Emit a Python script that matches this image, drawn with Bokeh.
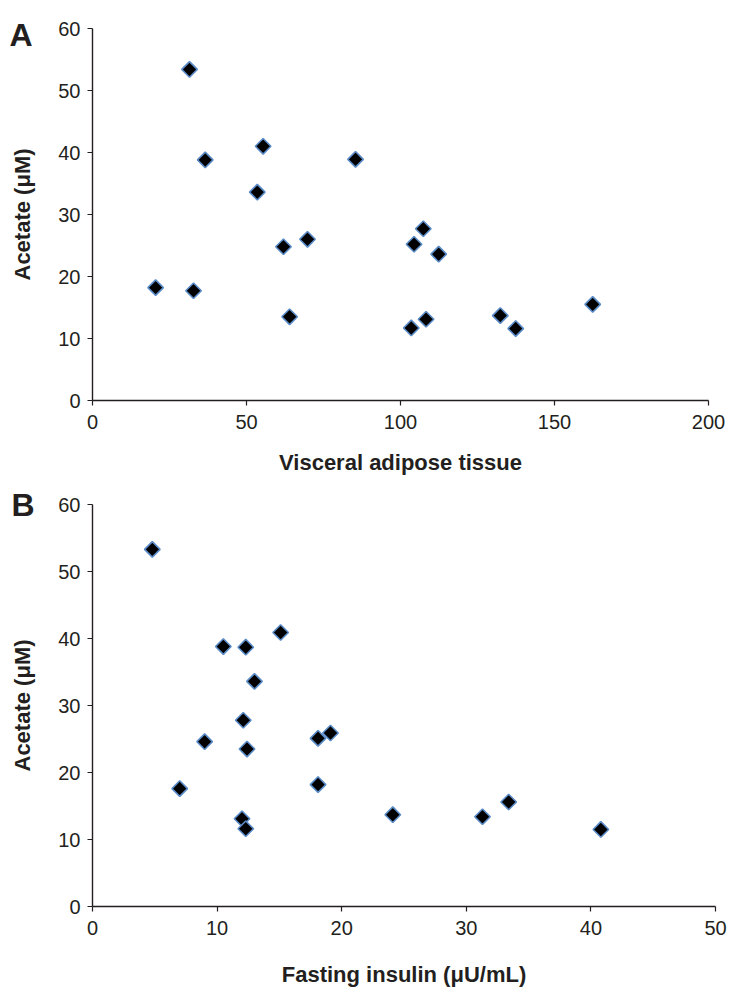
import math
from bokeh.plotting import figure
from bokeh.layouts import column
from bokeh.models import Range1d, FixedTicker, Label, ColumnDataSource
from bokeh.embed import file_html
from bokeh.resources import INLINE

# Panel A: visceral adipose tissue vs acetate
vat = [31.5, 36.6, 55.4, 53.5, 85.4, 62.0, 69.8, 20.5, 32.8, 64.0,
       104.4, 107.4, 112.4, 103.5, 108.3, 132.4, 137.4, 162.4]
acetate_a = [53.4, 38.8, 41.0, 33.6, 38.9, 24.8, 26.0, 18.2, 17.7, 13.5,
             25.2, 27.7, 23.6, 11.7, 13.1, 13.7, 11.6, 15.5]

# Panel B: fasting insulin vs acetate
insulin = [4.8, 10.5, 12.3, 15.1, 13.0, 12.1, 9.0, 12.4, 18.1, 19.1,
           7.0, 18.1, 12.0, 12.3, 24.1, 31.3, 33.4, 40.8]
acetate_b = [53.3, 38.8, 38.7, 40.9, 33.6, 27.8, 24.6, 23.5, 25.1, 25.9,
             17.6, 18.2, 13.1, 11.6, 13.7, 13.4, 15.6, 11.5]

x_ticks_a = [0, 50, 100, 150, 200]
x_ticks_b = [0, 10, 20, 30, 40, 50]
y_ticks = [0, 10, 20, 30, 40, 50, 60]
Y_MAX = 60

TXT = "#231f20"
FONT = "Liberation Sans"


def make_panel(xs, ys, xmax, xticks, xlabel, letter,
               axis_w, axis_h, pad_left, pad_top, pad_right, pad_bottom,
               xstand, letter_dx, letter_dy):
    # The frame covers the whole canvas; the axes are drawn at x=0 / y=0
    # with bounds limited to the data span, so the panel letter fits inside.
    x0 = -pad_left / axis_w * xmax
    x1 = xmax + pad_right / axis_w * xmax
    y0 = -pad_bottom / axis_h * Y_MAX
    y1 = Y_MAX + pad_top / axis_h * Y_MAX
    p = figure(frame_width=pad_left + axis_w + pad_right,
               frame_height=pad_top + axis_h + pad_bottom,
               x_range=Range1d(x0, x1), y_range=Range1d(y0, y1),
               output_backend="svg", toolbar_location=None,
               min_border=0)
    p.grid.visible = False
    p.outline_line_color = None
    p.background_fill_color = "white"
    p.border_fill_color = "white"
    for ax in (p.xaxis[0], p.yaxis[0]):
        ax.axis_line_color = TXT
        ax.axis_line_width = 1.4
        ax.major_tick_line_color = TXT
        ax.major_tick_line_width = 1.2
        ax.major_tick_in = 0
        ax.major_tick_out = 5
        ax.minor_tick_line_color = None
        ax.major_label_text_font = FONT
        ax.major_label_text_font_size = "20px"
        ax.major_label_text_color = TXT
        ax.axis_label_text_font = FONT
        ax.axis_label_text_font_style = "bold"
        ax.axis_label_text_font_size = "22px"
        ax.axis_label_text_color = TXT
    p.xaxis.major_label_standoff = 9
    p.yaxis.major_label_standoff = 7
    p.xaxis.ticker = FixedTicker(ticks=xticks)
    p.yaxis.ticker = FixedTicker(ticks=y_ticks)
    p.xaxis.bounds = (0, xmax)
    p.yaxis.bounds = (0, Y_MAX)
    p.xaxis.fixed_location = 0
    p.yaxis.fixed_location = 0
    p.xaxis.axis_label = xlabel
    p.yaxis.axis_label = "Acetate (μM)"
    p.xaxis.axis_label_standoff = xstand
    p.yaxis.axis_label_standoff = 20

    src = ColumnDataSource(dict(x=xs, y=ys))
    p.scatter("x", "y", source=src, marker="square", size=11,
              angle=math.pi / 4, fill_color="black",
              line_color="#5b8cc8", line_width=1.6)

    lab = Label(x=pad_left + letter_dx,
                y=pad_bottom + axis_h + letter_dy,
                x_units="screen", y_units="screen",
                text=letter, text_font=FONT,
                text_font_style="bold", text_font_size="32px",
                text_color=TXT, text_align="left",
                text_baseline="alphabetic")
    p.add_layout(lab)
    return p


pa = make_panel(vat, acetate_a, 200, x_ticks_a, "Visceral adipose tissue",
                "A", 616, 372, 92, 28, 18, 80, 18, -83, -6)
pb = make_panel(insulin, acetate_b, 50, x_ticks_b, "Fasting insulin (μU/mL)",
                "B", 623, 402, 92, 24, 18, 85, 24, -81, 0)

layout = column(pa, pb, spacing=0)
open("out.html", "w").write(file_html(layout, INLINE))
